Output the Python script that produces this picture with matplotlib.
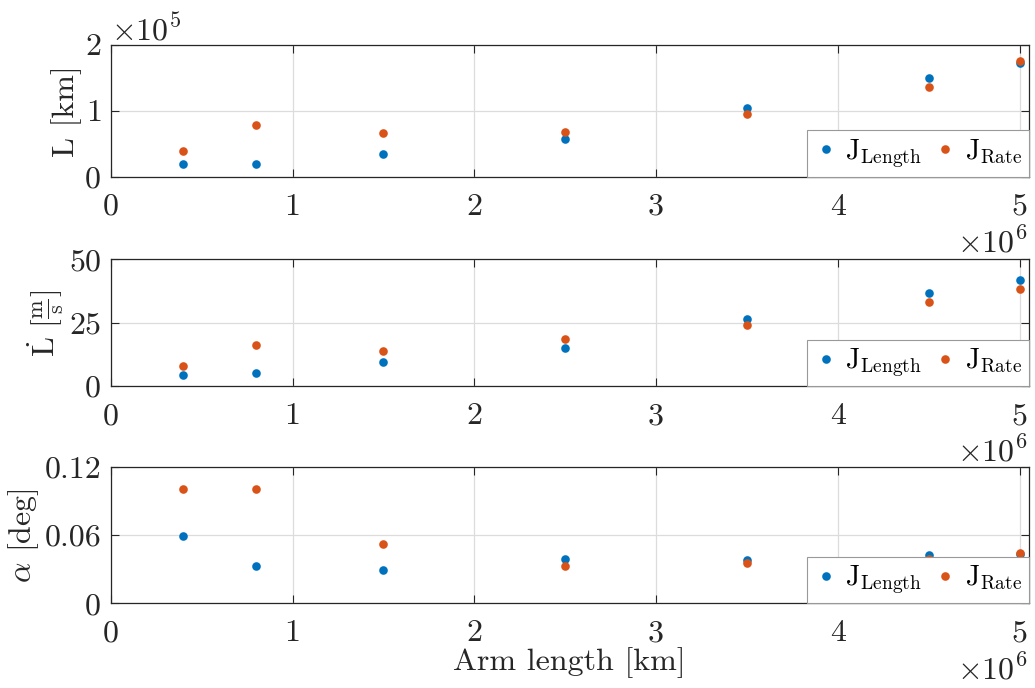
import matplotlib
matplotlib.use('Agg')
import matplotlib.pyplot as plt
from matplotlib.ticker import FixedLocator

plt.rcParams['font.family'] = 'cmr10'
plt.rcParams['mathtext.fontset'] = 'cm'
plt.rcParams['axes.formatter.use_mathtext'] = True
plt.rcParams['axes.unicode_minus'] = False

arm_length = [0.4e6, 0.8e6, 1.5e6, 2.5e6, 3.5e6, 4.5e6, 5.0e6]

L_length = [0.20e5, 0.19e5, 0.34e5, 0.565e5, 1.04e5, 1.49e5, 1.72e5]
L_rate = [0.39e5, 0.79e5, 0.66e5, 0.68e5, 0.95e5, 1.36e5, 1.75e5]

Ldot_length = [4.2, 5.3, 9.6, 14.9, 26.6, 36.7, 41.9]
Ldot_rate = [8.0, 16.2, 13.9, 18.4, 24.2, 33.0, 38.4]

alpha_length = [0.0594, 0.0326, 0.0297, 0.0391, 0.0379, 0.0423, 0.0438]
alpha_rate = [0.1006, 0.1006, 0.0526, 0.0332, 0.0353, 0.0394, 0.0441]

x_ticks = [0, 1e6, 2e6, 3e6, 4e6, 5e6]
x_ticklabels = ['0', '1', '2', '3', '4', '5']
x_exponent = r'$\times10^{6}$'
L_ticks = [0, 1e5, 2e5]
Ldot_ticks = [0, 25, 50]
Ldot_ticklabels = ['0', '25', '50']
alpha_ticks = [0, 0.06, 0.12]
alpha_ticklabels = ['0', '0.06', '0.12']

blue = '#0072BD'
orange = '#D95319'
dark = '#262626'
fs = 23

fig = plt.figure(figsize=(10.35, 6.88), dpi=100)
ax1 = fig.add_axes([0.107, 0.743, 0.887, 0.192])
ax2 = fig.add_axes([0.107, 0.439, 0.887, 0.184])
ax3 = fig.add_axes([0.107, 0.123, 0.887, 0.198])

panels = [
    (ax1, L_length, L_rate, L_ticks, None, 'L [km]'),
    (ax2, Ldot_length, Ldot_rate, Ldot_ticks, Ldot_ticklabels,
     r'$\dot{\mathrm{L}}\ [\frac{\mathrm{m}}{\mathrm{s}}]$'),
    (ax3, alpha_length, alpha_rate, alpha_ticks, alpha_ticklabels,
     r'$\alpha$ [deg]'),
]

for ax, ylen, yrate, yt, ytl, ylab in panels:
    ax.plot(arm_length, ylen, 'o', color=blue, ms=6.2, mew=0,
            label=r'$\mathrm{J}_{\mathrm{Length}}$', zorder=3)
    ax.plot(arm_length, yrate, 'o', color=orange, ms=6.2, mew=0,
            label=r'$\mathrm{J}_{\mathrm{Rate}}$', zorder=3)
    ax.set_xlim(0, 5.05e6)
    ax.set_ylim(yt[0], yt[-1])
    ax.xaxis.set_major_locator(FixedLocator(x_ticks))
    ax.set_xticklabels(x_ticklabels)
    ax.yaxis.set_major_locator(FixedLocator(yt))
    if ytl is not None:
        ax.set_yticklabels(ytl)
    else:
        ax.ticklabel_format(axis='y', style='sci', scilimits=(0, 0))
    ax.grid(True, color='#dcdcdc', lw=0.9)
    ax.set_axisbelow(True)
    ax.tick_params(direction='in', top=True, right=True, length=6,
                   width=0.8, colors=dark, labelsize=fs)
    ax.tick_params(axis='x', pad=12)
    ax.tick_params(axis='y', pad=7)
    for s in ax.spines.values():
        s.set_color(dark)
        s.set_linewidth(0.9)
    ax.yaxis.get_offset_text().set_fontsize(fs)
    # exponent of the x axis, below the last tick label
    ax.annotate(x_exponent, xy=(1, 0), xycoords='axes fraction',
                xytext=(-1, -54.5), textcoords='offset points',
                ha='right', va='baseline', fontsize=fs, color=dark)
    ax.set_ylabel(ylab, fontsize=fs, color=dark, labelpad=2)
    leg = ax.legend(loc='lower right', ncol=2, fontsize=20, borderaxespad=0,
                    fancybox=False, framealpha=1, edgecolor='#999999',
                    handletextpad=0.3, columnspacing=0.45, handlelength=0.8,
                    markerscale=1.0, borderpad=0.25)
    leg.get_frame().set_linewidth(0.8)

ax3.set_xlabel('Arm length [km]', fontsize=fs, color=dark, labelpad=0)

fig.savefig('out.png', dpi=100)
